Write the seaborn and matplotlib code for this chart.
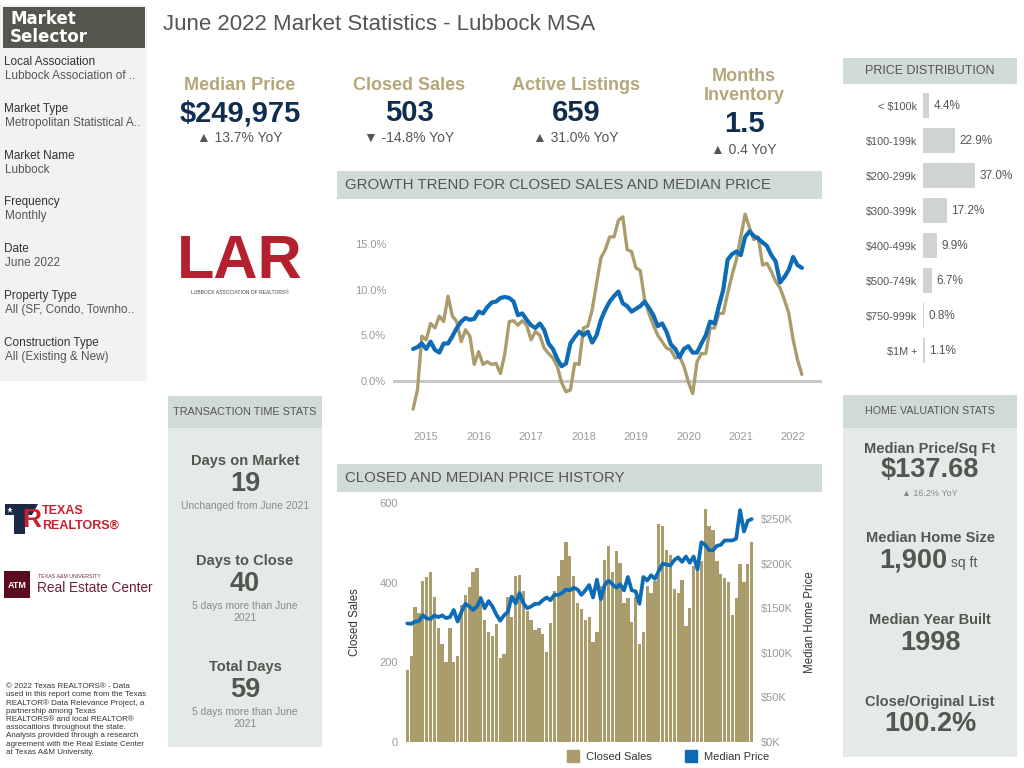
import matplotlib
matplotlib.use("Agg")
import matplotlib.pyplot as plt
import matplotlib.patches as mpatches
import seaborn as sns
import numpy as np

# ---- data (Jan 2015 .. Jun 2022, monthly) ----
years = [2015, 2016, 2017, 2018, 2019, 2020, 2021, 2022]

closed_sales = [182, 216, 340, 325, 403, 415, 428, 365, 287, 247, 202, 287,
                202, 216, 345, 370, 390, 428, 437, 367, 307, 275, 265, 297,
                212, 220, 365, 315, 417, 420, 380, 330, 307, 280, 287, 272,
                227, 300, 380, 417, 457, 502, 467, 417, 350, 335, 307, 315,
                252, 277, 392, 457, 492, 427, 480, 450, 350, 362, 302, 365,
                247, 275, 392, 375, 405, 547, 542, 482, 470, 385, 375, 407,
                290, 337, 442, 430, 455, 585, 542, 532, 455, 422, 412, 402,
                320, 362, 447, 402, 447, 503]

median_price = [133000, 132500, 135000, 135600, 142000, 138600, 138000, 142000, 140000, 142000, 139000, 140000,
                148000, 135000, 146000, 155000, 152000, 148000, 152000, 161000, 150000, 158000, 152000, 143000,
                136000, 142000, 146000, 163000, 155500, 167000, 155500, 150000, 152000, 155000, 155000, 159000,
                162000, 159000, 165000, 165000, 167000, 171000, 170000, 173000, 171000, 165000, 170000, 176000,
                162000, 182000, 160000, 176000, 181000, 177000, 173000, 177000, 170000, 185000, 170000, 169000,
                155000, 185000, 181000, 187000, 183000, 192000, 200000, 199000, 198000, 204000, 207000, 202000,
                208000, 201000, 208000, 193500, 224000, 221000, 215000, 215000, 220000, 221000, 226000, 226000,
                226000, 228000, 260000, 236000, 248000, 249975]

# 12-month growth trend, percent
sales_growth = [-3.1, -1.0, 4.9, 4.5, 6.3, 5.8, 7.1, 6.5, 9.3, 7.1, 6.5, 4.3,
                5.6, 4.9, 1.8, 3.2, 1.8, 2.1, 1.8, 1.9, 0.8, 3.0, 6.5, 6.6,
                6.1, 6.6, 6.1, 4.5, 5.4, 5.0, 3.6, 3.0, 2.5, 1.6, -0.2, -1.2,
                -1.0, 1.9, 1.8, 5.8, 6.0, 7.8, 10.7, 13.5, 14.4, 15.8, 15.8, 17.6,
                18.0, 14.4, 14.2, 12.4, 12.1, 8.9, 7.4, 6.1, 5.0, 4.3, 3.6, 3.4,
                2.5, 2.7, 1.6, -0.1, -1.4, 2.1, 3.0, 3.0, 5.8, 5.8, 7.4, 7.4,
                9.6, 11.6, 13.3, 15.8, 18.3, 16.8, 15.5, 15.8, 12.7, 12.9, 12.0, 10.9,
                10.2, 8.9, 7.4, 4.5, 2.3, 0.7]

price_growth = [3.5, 3.7, 4.1, 3.5, 4.3, 3.4, 3.1, 4.1, 4.1, 4.9, 5.8, 6.5,
                6.9, 6.7, 6.8, 7.6, 7.4, 8.1, 8.6, 8.7, 9.1, 9.2, 9.1, 8.7,
                7.2, 7.4, 6.7, 6.1, 5.8, 6.3, 5.6, 4.1, 3.5, 2.4, 1.6, 1.9,
                4.1, 4.8, 5.4, 5.0, 5.4, 4.2, 5.0, 6.7, 7.8, 8.7, 9.3, 9.8,
                8.5, 8.2, 7.6, 7.9, 8.2, 8.7, 8.0, 7.2, 6.0, 6.3, 5.4, 4.0,
                3.5, 2.6, 3.5, 3.8, 3.1, 3.1, 4.1, 5.0, 6.5, 6.3, 8.2, 10.0,
                13.3, 13.9, 14.2, 13.8, 15.8, 16.4, 15.9, 15.6, 15.2, 14.8, 13.8, 13.1,
                10.8, 11.4, 12.2, 13.6, 12.7, 12.4]

price_bins = ["< $100k", "$100-199k", "$200-299k", "$300-399k",
              "$400-499k", "$500-749k", "$750-999k", "$1M +"]
price_share = [4.4, 22.9, 37.0, 17.2, 9.9, 6.7, 0.8, 1.1]

selector_labels = ["Local Association", "Market Type", "Market Name", "Frequency",
                   "Date", "Property Type", "Construction Type"]
selector_values = ["Lubbock Association of ..", "Metropolitan Statistical A..", "Lubbock",
                   "Monthly", "June 2022", "All (SF, Condo, Townho..", "All (Existing & New)"]

months = list(range(len(closed_sales)))

# ---- colours ----
GOLD = "#ab9c6b"
BLUE = "#0d6cb5"
NAVY = "#0f2d4f"
KPI_GOLD = "#b5a679"
HEAD_BG = "#d0dad6"
PANEL_BG = "#e4eae8"
GREY_TXT = "#555555"
STAT_TXT = "#545650"
TICK = "#9a9a9a"

W, H = 1024, 768
sns.set_theme(style="white")
plt.rcParams["font.family"] = ["Liberation Sans", "DejaVu Sans"]

fig = plt.figure(figsize=(W / 100, H / 100), dpi=100)
fig.patch.set_facecolor("white")


def box(x0, y0, x1, y1):
    return [x0 / W, 1 - y1 / H, (x1 - x0) / W, (y1 - y0) / H]


# full-figure canvas in pixel coords for panels / text
canvas = fig.add_axes([0, 0, 1, 1])
canvas.set_xlim(0, W)
canvas.set_ylim(H, 0)
canvas.axis("off")


def rect(x0, y0, x1, y1, color):
    canvas.add_patch(mpatches.Rectangle((x0, y0), x1 - x0, y1 - y0, color=color, lw=0))


def txt(x, y, s, size, color=GREY_TXT, weight="normal", ha="left", **kw):
    canvas.text(x, y, s, fontsize=size, color=color, fontweight=weight,
                ha=ha, va="center", **kw)


# ---- left selector panel ----
rect(0, 5, 147, 381, "#f2f2f2")
rect(3, 7, 145, 48, "#55574f")
txt(10, 28, "Market\nSelector", 12, "white", "bold",
    family="DejaVu Sans", linespacing=1.0)
for i, (lab, val) in enumerate(zip(selector_labels, selector_values)):
    y = 62 + i * 46.8
    txt(4, y, lab, 8.5, "#333333")
    txt(5, y + 14, val, 8.5, GREY_TXT)

# ---- title ----
txt(163, 25, "June 2022 Market Statistics - Lubbock MSA", 16, GREY_TXT)

# ---- KPIs ----
kpis = [(240, "Median Price", "$249,975", "\u25B2 13.7% YoY"),
        (409, "Closed Sales", "503", "\u25BC -14.8% YoY"),
        (576, "Active Listings", "659", "\u25B2 31.0% YoY")]
for x, lab, val, chg in kpis:
    txt(x, 86, lab, 13, KPI_GOLD, "bold", ha="center")
    txt(x, 113, val, 21, NAVY, "bold", ha="center")
    txt(x, 138, chg, 10, GREY_TXT, ha="center")
txt(744, 86, "Months\nInventory", 13, KPI_GOLD, "bold", ha="center", linespacing=1.2)
txt(744, 124, "1.5", 21, NAVY, "bold", ha="center")
txt(744, 150, "\u25B2 0.4 YoY", 10, GREY_TXT, ha="center")

# ---- LAR logo ----
txt(240, 263, "LAR", 44, "#b5202e", "bold", ha="center")
canvas.plot([198], [246], marker="*", ms=6, color="white", mew=0)
txt(240, 292, "LUBBOCK ASSOCIATION OF REALTORS\u00AE", 3.6, "#444444", ha="center")

# ---- Texas REALTORS logo ----
canvas.add_patch(mpatches.Polygon([(5, 504), (38, 504), (32, 515), (25, 515), (25, 534),
                                   (14, 534), (14, 515), (5, 515)], closed=True,
                                  color="#1b2a47", lw=0))
canvas.plot([10], [509.5], marker="*", ms=5, color="white", mew=0)
txt(32, 520, "R", 19, "#c8202f", "bold", ha="center")
txt(42, 511, "TEXAS", 9, "#c8202f", "bold",
    family=["Liberation Sans Narrow", "Liberation Sans"])
txt(42, 526, "REALTORS\u00AE", 9, "#c8202f", "bold",
    family=["Liberation Sans Narrow", "Liberation Sans"])

# ---- Texas A&M logo ----
rect(4, 571, 30, 598, "#5b0b1f")
txt(17, 585, "ATM", 6.5, "white", "bold", ha="center")
txt(38, 577, "TEXAS A&M UNIVERSITY", 3.8, "#7a3040")
txt(37, 588, "Real Estate Center", 9.8, "#6b2035")

footer = ("\u00A9 2022 Texas REALTORS\u00AE - Data\n"
          "used in this report come from the Texas\n"
          "REALTOR\u00AE Data Relevance Project, a\n"
          "partnership among Texas\n"
          "REALTORS\u00AE and local REALTOR\u00AE\n"
          "assocaitions throughout the state.\n"
          "Analysis provided through a research\n"
          "agreement with the Real Estate Center\n"
          "at Texas A&M University.")
canvas.text(6, 683, footer, fontsize=5.8, color="#333333", va="top", ha="left",
            linespacing=1.22)

# ---- section headers / panels ----
rect(337, 171, 822, 199, HEAD_BG)
txt(345, 185, "GROWTH TREND FOR CLOSED SALES AND MEDIAN PRICE", 10.8, GREY_TXT)
rect(337, 464, 822, 492, HEAD_BG)
txt(345, 478, "CLOSED AND MEDIAN PRICE HISTORY", 10.8, GREY_TXT)
rect(843, 58, 1017, 84, HEAD_BG)
txt(930, 71, "PRICE DISTRIBUTION", 9, GREY_TXT, ha="center")

rect(168, 396, 322, 428, HEAD_BG)
rect(168, 428, 322, 747, PANEL_BG)
txt(245, 412, "TRANSACTION TIME STATS", 7.8, GREY_TXT, ha="center")
time_stats = [(461, "Days on Market", "19", "Unchanged from June 2021"),
              (561, "Days to Close", "40", "5 days more than June\n2021"),
              (667, "Total Days", "59", "5 days more than June\n2021")]
for y, lab, val, note in time_stats:
    txt(245, y, lab, 10.5, STAT_TXT, "bold", ha="center")
    txt(245, y + 23, val, 19.5, STAT_TXT, "bold", ha="center")
    txt(245, y + 45 + (6 if "\n" in note else 0), note, 7.5, "#8a8a8a",
        ha="center", linespacing=1.3)

rect(843, 395, 1017, 428, HEAD_BG)
rect(843, 428, 1017, 757, PANEL_BG)
txt(930, 411, "HOME VALUATION STATS", 7.7, GREY_TXT, ha="center")
txt(930, 449, "Median Price/Sq Ft", 10.5, STAT_TXT, "bold", ha="center")
txt(930, 470, "$137.68", 19.5, STAT_TXT, "bold", ha="center")
txt(930, 493, "\u25B2 16.2% YoY", 6.5, "#8a8a8a", ha="center")
txt(930, 538, "Median Home Size", 10.5, STAT_TXT, "bold", ha="center")
txt(947, 561, "1,900", 19.5, STAT_TXT, "bold", ha="right")
txt(951, 563, "sq ft", 10, STAT_TXT)
txt(930, 620, "Median Year Built", 10.5, STAT_TXT, "bold", ha="center")
txt(930, 643, "1998", 19.5, STAT_TXT, "bold", ha="center")
txt(930, 702, "Close/Original List", 10.5, STAT_TXT, "bold", ha="center")
txt(930, 724, "100.2%", 19.5, STAT_TXT, "bold", ha="center")


def clean(ax):
    for s in ax.spines.values():
        s.set_visible(False)
    ax.set_facecolor("none")
    ax.tick_params(length=0, labelsize=8, labelcolor=TICK)


# ---- growth trend chart ----
ax1 = fig.add_axes(box(393, 205, 822, 420))
clean(ax1)
ax1.axhline(0, color="#c8c8c8", lw=2.2, zorder=0)
sns.lineplot(x=months, y=sales_growth, color=GOLD, lw=2.4, ax=ax1)
sns.lineplot(x=months, y=price_growth, color=BLUE, lw=3.0, ax=ax1)
ax1.set_xlim(-4.6, 93.6)
ax1.set_ylim(-4.3, 19.3)
ax1.set_yticks([0, 5, 10, 15])
ax1.set_yticklabels([f"{v:.1f}%" for v in [0, 5, 10, 15]])
ax1.set_xticks([3 + 12 * i for i in range(len(years))])
ax1.set_xticklabels([str(y) for y in years])
ax1.tick_params(axis="y", pad=5)
ax1.tick_params(axis="x", pad=9)
ax1.set_xlabel("")
ax1.set_ylabel("")

# ---- closed sales / median price history ----
ax2 = fig.add_axes(box(405, 503, 754, 742))
clean(ax2)
sns.barplot(x=months, y=closed_sales, color=GOLD, saturation=1, width=0.86,
            linewidth=0, ax=ax2)
ax2.set_ylim(0, 600)
ax2.set_yticks([0, 200, 400, 600])
ax2.set_xticks([])
ax2.set_xlabel("")
ax2.set_ylabel("Closed Sales", fontsize=8.3, color="#333333", labelpad=13)
ax2.tick_params(axis="y", pad=5)

ax3 = ax2.twinx()
clean(ax3)
sns.lineplot(x=months, y=median_price, color=BLUE, lw=2.7, ax=ax3)
ax3.set_ylim(0, 268000)
ax3.set_yticks(np.arange(0, 250001, 50000))
ax3.set_yticklabels([f"${int(v / 1000)}K" for v in np.arange(0, 250001, 50000)])
ax3.set_ylabel("Median Home Price", fontsize=8.3, color="#333333", labelpad=8)
ax3.tick_params(axis="y", pad=5)
ax2.set_xlim(-0.6, len(months) - 0.4)

handles = [mpatches.Patch(color=GOLD), mpatches.Patch(color=BLUE)]
fig.legend(handles, ["Closed Sales", "Median Price"], loc="center",
           bbox_to_anchor=(668 / W, 1 - 756 / H), ncol=2, frameon=False,
           fontsize=8, handlelength=1.1, handleheight=1.2, columnspacing=3,
           handletextpad=0.6, labelcolor="#333333")

# ---- price distribution ----
ax4 = fig.add_axes(box(923, 88, 1017, 368))
clean(ax4)
sns.barplot(x=price_share, y=price_bins, orient="h", color="#d0d3d3",
            saturation=1, width=0.74, linewidth=0, ax=ax4)
ax4.set_xlim(0, 66.7)
ax4.set_xticks([])
ax4.set_xlabel("")
ax4.set_ylabel("")
ax4.tick_params(axis="y", labelsize=7.8, labelcolor=GREY_TXT, pad=4)
ax4.bar_label(ax4.containers[0], labels=[f"{v:.1f}%" for v in price_share],
              padding=3, fontsize=8.5, color=GREY_TXT)

fig.savefig("out.png", dpi=100)
